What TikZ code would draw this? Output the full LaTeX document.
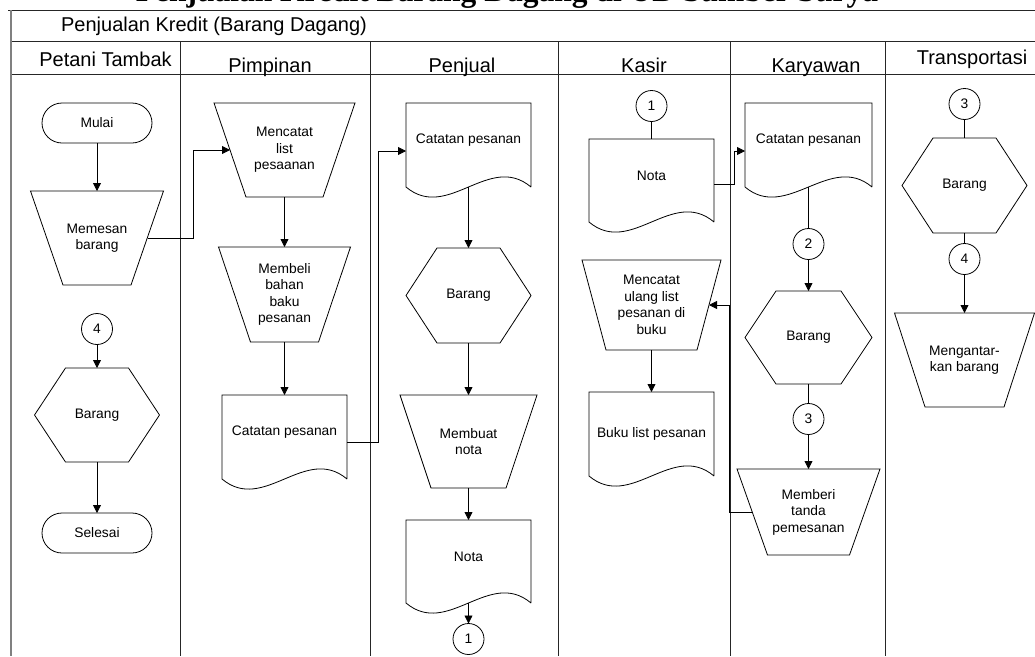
\documentclass[tikz,border=0pt]{standalone}
\usepackage{fontspec}
\setmainfont{Liberation Sans}
\newfontfamily\titlefont{Liberation Serif}
\usetikzlibrary{arrows.meta}
\newcommand\docup[1]{\raisebox{5pt}[\height][\depth]{#1}}
\begin{document}
\begin{tikzpicture}[x=1pt,y=-1pt,
  every node/.style={font=\fontsize{13.8}{16.5}\selectfont, align=center, inner sep=0pt, outer sep=0pt},
  line/.style={draw=black, line width=0.8pt},
  arr/.style={line, -{Triangle[length=8pt,width=8pt]}},
  term/.style={draw, line width=0.8pt, rounded corners=20pt, minimum width=110pt, minimum height=40pt},
  conn/.style={draw, circle, line width=0.8pt, minimum size=31pt},
  shp/.style 2 args={minimum width=#1pt, minimum height=#2pt},
  hdr/.style={font=\fontsize{20}{24}\selectfont, anchor=base},
  lane/.style={draw=black!85, line width=0.9pt},
]
\useasboundingbox (0,0) rectangle (1035,656);
\clip (0,0) rectangle (1035,656);

% frame
\draw[lane] (8,10) -- (1035,10);
\draw[lane] (11,41) -- (1035,41);
\draw[lane] (11,74.5) -- (1035,74.5);
\draw[draw=gray, line width=1.5pt] (11,10) -- (11,656);
\foreach \x in {180,370,558,730,885} \draw[lane] (\x,41) -- (\x,656);

% titles
\node[font={\titlefont\bfseries\fontsize{31.5}{32}\selectfont}, anchor=base] (title) at (507,1.5) {Penjualan Kredit Barang Dagang di UD Sumber Surya};
\node[hdr] (hmain) at (214,31.5) {Penjualan Kredit (Barang Dagang)};
\node[hdr] (h1) at (105.5,66) {Petani Tambak};
\node[hdr] (h2) at (270,72) {Pimpinan};
\node[hdr] (h3) at (462,72) {Penjual};
\node[hdr] (h4) at (644,72) {Kasir};
\node[hdr] (h5) at (816,72) {Karyawan};
\node[hdr] (h6) at (972,64) {Transportasi};

% Petani Tambak
\node[term] (mulai) at (97,123) {Mulai};
\node[shp={133}{94}] (memesan) at (97,238) {Memesan\\barang};
\node[conn] (c4a) at (97,329) {4};
\node[shp={125}{94}] (barP) at (97,415) {Barang};
\node[term] (selesai) at (97,533) {Selesai};

% Pimpinan
\node[shp={141}{94}] (mencatat) at (284.5,150) {Mencatat\\list\\pesaanan};
\node[shp={132}{95}] (membeli) at (284.5,294.5) {Membeli\\bahan\\baku\\pesanan};
\node[shp={125}{84}] (catP) at (284.5,437) {\docup{Catatan pesanan}};

% Penjual
\node[shp={125}{84}] (catJ) at (468.5,145) {\docup{Catatan pesanan}};
\node[shp={125}{95}] (barJ) at (468.5,295.5) {Barang};
\node[shp={137}{93}] (membuat) at (468.5,441.5) {Membuat\\nota};
\node[shp={125}{83}] (notaJ) at (468.5,561.5) {\docup{Nota}};
\node[conn] (c1b) at (468.5,639) {1};

% Kasir
\node[conn] (c1a) at (651.5,106) {1};
\node[shp={125}{83}] (notaK) at (651.5,180.5) {\docup{Nota}};
\node[shp={139}{90}] (mu) at (651.5,305) {Mencatat\\ulang list\\pesanan di\\buku};
\node[shp={125}{84}] (buku) at (651.5,434) {Buku list pesanan};

% Karyawan
\node[shp={127}{84}] (catK) at (808.5,145) {\docup{Catatan pesanan}};
\node[conn] (c2) at (808.5,244) {2};
\node[shp={127}{93}] (barK) at (808.5,337.5) {Barang};
\node[conn] (c3a) at (808.5,419) {3};
\node[shp={143}{86}] (memberi) at (808.5,512) {Memberi\\tanda\\pemesanan};

% Transportasi
\node[conn] (c3b) at (964.5,104) {3};
\node[shp={125}{95}] (barT) at (964.5,185.5) {Barang};
\node[conn] (c4b) at (964.5,259) {4};
\node[shp={140}{94}] (mengantar) at (964.5,360) {Mengantar-\\kan barang};

% outlines: manual operations (inverted trapezoids)
\foreach \n/\i in {memesan/32.5, mencatat/32, membeli/32, membuat/31, mu/24, memberi/30.5, mengantar/30.5}
  \draw[line] (\n.north west) -- (\n.north east) -- ([xshift=-\i*1pt]\n.south east) -- ([xshift=\i*1pt]\n.south west) -- cycle;
% documents
\foreach \n in {catP,catJ,notaJ,notaK,buku,catK}
  \draw[line] (\n.south east) -- (\n.north east) -- (\n.north west) -- (\n.south west)
    .. controls +(41.7,35) and +(-41.7,-35) .. (\n.south east);
% hexagons
\foreach \n in {barP,barJ,barK,barT}
  \draw[line] (\n.west) -- ([xshift=31pt]\n.north west) -- ([xshift=-31pt]\n.north east) -- (\n.east)
    -- ([xshift=-31pt]\n.south east) -- ([xshift=31pt]\n.south west) -- cycle;

% connectors
\coordinate (j1) at (193,150);
\coordinate (j2) at (378,151);
\coordinate (j3) at (734,151);
\coordinate (j4) at (729,305);

\draw[arr] (mulai.south) -- (memesan.north);
\draw[arr] ([xshift=-16pt]memesan.east) -| (j1) -- ([xshift=16pt]mencatat.west);
\draw[arr] (c4a.south) -- (barP.north);
\draw[arr] (barP.south) -- (selesai.north);
\draw[arr] (mencatat.south) -- (membeli.north);
\draw[arr] (membeli.south) -- (catP.north);
\draw[arr] ([yshift=-5pt]catP.east) -| (j2) -- (j2 -| catJ.west);
\draw[arr] (catJ.south) -- (barJ.north);
\draw[arr] (barJ.south) -- (membuat.north);
\draw[arr] (membuat.south) -- (notaJ.north);
\draw[arr] (notaJ.south) -- (c1b.north);
\draw[line] (c1a.south) -- (notaK.north);
\draw[arr] ([yshift=-4pt]notaK.east) -| (j3) -- (j3 -| catK.west);
\draw[arr] (mu.south) -- (buku.north);
\draw[arr] ([xshift=15pt]memberi.west) -| (j4) -- ([xshift=-12pt]mu.east);
\draw[line] (catK.south) -- (c2.north);
\draw[arr] (c2.south) -- (barK.north);
\draw[line] (barK.south) -- (c3a.north);
\draw[arr] (c3a.south) -- (memberi.north);
\draw[line] (c3b.south) -- (barT.north);
\draw[line] (barT.south) -- (c4b.north);
\draw[arr] (c4b.south) -- (mengantar.north);
\end{tikzpicture}
\end{document}
